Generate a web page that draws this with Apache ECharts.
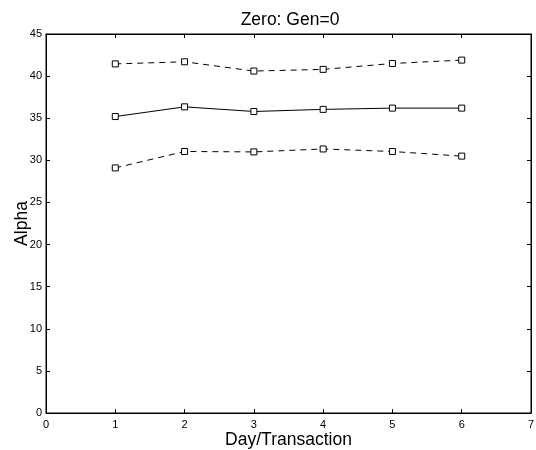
<!DOCTYPE html>
<html>
<head>
<meta charset="utf-8">
<script src="https://cdn.jsdelivr.net/npm/echarts@6/dist/echarts.min.js"></script>
<style>
  html, body { margin: 0; padding: 0; background: #fff; }
  #chart { width: 536px; height: 450px; }
</style>
</head>
<body>
<div id="chart"></div>
<script>
const days = [1, 2, 3, 4, 5, 6];
const upper = [41.45, 41.7, 40.6, 40.8, 41.5, 41.9];
const mean = [35.2, 36.35, 35.8, 36.05, 36.2, 36.2];
const lower = [29.1, 31.05, 31.0, 31.35, 31.05, 30.5];

const pairs = (ys) => days.map((d, i) => [d, ys[i]]);

const font = "Liberation Sans, Arial, sans-serif";

const lineSeries = (name, ys, type) => ({
  name: name,
  type: "line",
  data: pairs(ys),
  symbol: "rect",
  symbolSize: 6,
  showSymbol: true,
  itemStyle: { color: "#fff", borderColor: "#000", borderWidth: 1 },
  lineStyle: { color: "#000", width: 1, type: type },
  animation: false,
  z: 3,
});

const baseAxis = {
  axisLine: { show: true, onZero: false, lineStyle: { color: "#000", width: 1 } },
  axisTick: { show: true, inside: true, length: 4, lineStyle: { color: "#000" } },
  splitLine: { show: false },
};

const chart = echarts.init(document.getElementById("chart"));
chart.setOption({
  backgroundColor: "#fff",
  title: {
    text: "Zero: Gen=0",
    left: 285,
    top: 6,
    textAlign: "center",
    textStyle: { fontFamily: font, fontSize: 17.5, fontWeight: "normal", color: "#000" },
  },
  grid: {
    left: 46, right: 5, top: 34, bottom: 37,
    outerBoundsMode: "none",
    containLabel: false,
    show: true, borderColor: "#000", borderWidth: 1,
  },
  xAxis: [
    {
      ...baseAxis,
      type: "value",
      min: 0,
      max: 7,
      interval: 1,
      position: "bottom",
      name: "Day/Transaction",
      nameLocation: "middle",
      nameMoveOverlap: false,
      nameGap: 18,
      nameTextStyle: { fontFamily: font, fontSize: 17.5, color: "#000" },
      axisLabel: { fontFamily: font, fontSize: 11, color: "#000", margin: 6 },
    },
    {
      ...baseAxis,
      type: "value",
      min: 0,
      max: 7,
      interval: 1,
      position: "top",
      axisLabel: { show: false },
    },
  ],
  yAxis: [
    {
      ...baseAxis,
      type: "value",
      min: 0,
      max: 45,
      interval: 5,
      position: "left",
      name: "Alpha",
      nameLocation: "middle",
      nameMoveOverlap: false,
      nameGap: 15,
      nameTextStyle: { fontFamily: font, fontSize: 17.5, color: "#000" },
      axisLabel: { fontFamily: font, fontSize: 11, color: "#000", margin: 4 },
    },
    {
      ...baseAxis,
      type: "value",
      min: 0,
      max: 45,
      interval: 5,
      position: "right",
      axisLabel: { show: false },
    },
  ],
  series: [
    lineSeries("upper", upper, [6, 5]),
    lineSeries("mean", mean, "solid"),
    lineSeries("lower", lower, [6, 5]),
    { type: "line", xAxisIndex: 1, yAxisIndex: 1, data: [], silent: true },
  ],
});
</script>
</body>
</html>
